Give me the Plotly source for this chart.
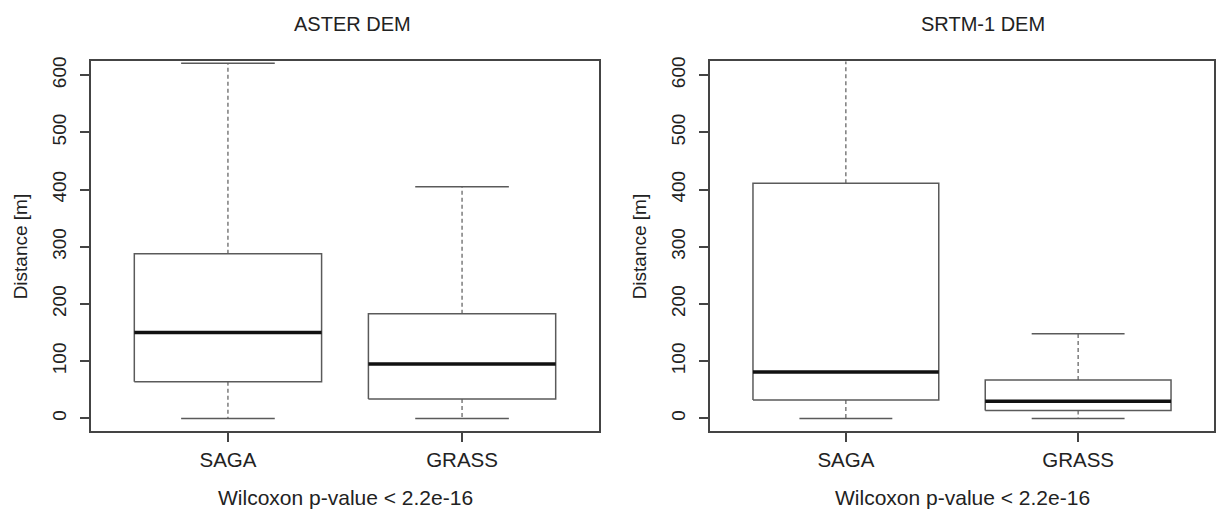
import plotly.graph_objects as go

# ---- data ----
categories = ["SAGA", "GRASS"]

aster_lower = [0, 0]
aster_q1 = [64, 34]
aster_median = [150, 95]
aster_q3 = [288, 183]
aster_upper = [621, 405]

srtm_lower = [0, 0]
srtm_q1 = [32, 14]
srtm_median = [81, 30]
srtm_q3 = [411, 67]
srtm_upper = [700, 148]

panel_titles = ["ASTER DEM", "SRTM-1 DEM"]
x_caption = "Wilcoxon p-value < 2.2e-16"
y_title = "Distance [m]"
y_ticks = [0, 100, 200, 300, 400, 500, 600]

FONT = "Liberation Sans, Arial, Helvetica, sans-serif"
TXT = "#222222"
BOX_COL = "#5a5a5a"
FRAME_COL = "#444444"
BOX_HALF = 0.4
CAP_HALF = 0.2

W, H = 1220, 511
fig = go.Figure()

panels = [
    dict(lower=aster_lower, q1=aster_q1, med=aster_median, q3=aster_q3, up=aster_upper,
         xa="x", ya="y"),
    dict(lower=srtm_lower, q1=srtm_q1, med=srtm_median, q3=srtm_q3, up=srtm_upper,
         xa="x2", ya="y2"),
]

for pnl in panels:
    for i, cat in enumerate(categories):
        p = i + 1
        lo, q1, md, q3, up = pnl["lower"][i], pnl["q1"][i], pnl["med"][i], pnl["q3"][i], pnl["up"][i]
        # dashed whiskers
        fig.add_trace(go.Scatter(
            x=[p, p, None, p, p], y=[q3, up, None, q1, lo], mode="lines",
            line=dict(color=BOX_COL, width=1.2, dash="4px,3px"),
            xaxis=pnl["xa"], yaxis=pnl["ya"], showlegend=False, hoverinfo="skip"))
        # staples
        fig.add_trace(go.Scatter(
            x=[p - CAP_HALF, p + CAP_HALF, None, p - CAP_HALF, p + CAP_HALF],
            y=[up, up, None, lo, lo], mode="lines",
            line=dict(color=BOX_COL, width=1.5),
            xaxis=pnl["xa"], yaxis=pnl["ya"], showlegend=False, hoverinfo="skip"))
        # box
        fig.add_trace(go.Scatter(
            x=[p - BOX_HALF, p + BOX_HALF, p + BOX_HALF, p - BOX_HALF, p - BOX_HALF],
            y=[q1, q1, q3, q3, q1], mode="lines",
            line=dict(color=BOX_COL, width=1.5),
            xaxis=pnl["xa"], yaxis=pnl["ya"], showlegend=False, name=cat))
        # median
        fig.add_trace(go.Scatter(
            x=[p - BOX_HALF, p + BOX_HALF], y=[md, md], mode="lines",
            line=dict(color="#111111", width=3.5),
            xaxis=pnl["xa"], yaxis=pnl["ya"], showlegend=False, name=cat + " median"))

# pixel geometry -> paper fractions
L1, R1 = 91, 599
L2, R2 = 710, 1214
TOP, BOT = 57, 430.5
ydom = [(H - BOT) / H, (H - TOP) / H]

xaxis_common = dict(
    range=[0.415, 2.585], tickmode="array", tickvals=[1, 2], ticktext=categories,
    showline=True, mirror=True, linecolor=FRAME_COL, linewidth=1.5,
    ticks="outside", ticklen=9, tickwidth=1.5, tickcolor=FRAME_COL,
    showgrid=False, zeroline=False, fixedrange=True,
    tickfont=dict(family=FONT, size=20.5, color=TXT),
)
yaxis_common = dict(
    range=[-22.5, 624], tickmode="array", tickvals=y_ticks,
    showline=True, mirror=True, linecolor=FRAME_COL, linewidth=1.5,
    ticks="outside", ticklen=9, tickwidth=1.5, tickcolor=FRAME_COL,
    ticklabelstandoff=7,
    tickangle=-90, showgrid=False, zeroline=False, fixedrange=True,
    tickfont=dict(family=FONT, size=19, color=TXT), domain=ydom,
)

fig.update_layout(
    width=W, height=H,
    margin=dict(l=0, r=0, t=0, b=0),
    paper_bgcolor="white", plot_bgcolor="white",
    xaxis=dict(domain=[L1 / W, R1 / W], anchor="y", **xaxis_common),
    yaxis=dict(anchor="x", **yaxis_common),
    xaxis2=dict(domain=[L2 / W, R2 / W], anchor="y2", **xaxis_common),
    yaxis2=dict(anchor="x2", **yaxis_common),
    showlegend=False,
)

title_cx = [352, 983]
annotations = []
for (l, r), title, tcx in zip([(L1, R1), (L2, R2)], panel_titles, title_cx):
    cx = (l + r) / 2 / W
    annotations.append(dict(text=title, x=tcx / W, y=(H - 19) / H, xref="paper", yref="paper",
                            xanchor="center", yanchor="middle", showarrow=False,
                            font=dict(family=FONT, size=20, color=TXT)))
    annotations.append(dict(text=x_caption, x=cx, y=(H - 497.5) / H, xref="paper", yref="paper",
                            xanchor="center", yanchor="middle", showarrow=False,
                            font=dict(family=FONT, size=21, color=TXT)))
    annotations.append(dict(text=y_title, x=(l - 71) / W, y=(H - (TOP + BOT) / 2) / H,
                            xref="paper", yref="paper", textangle=-90,
                            xanchor="center", yanchor="middle", showarrow=False,
                            font=dict(family=FONT, size=19, color=TXT)))
fig.update_layout(annotations=annotations)

fig.write_html("out.html", config={"displayModeBar": False},
               post_script="document.body.style.margin='0px';")
